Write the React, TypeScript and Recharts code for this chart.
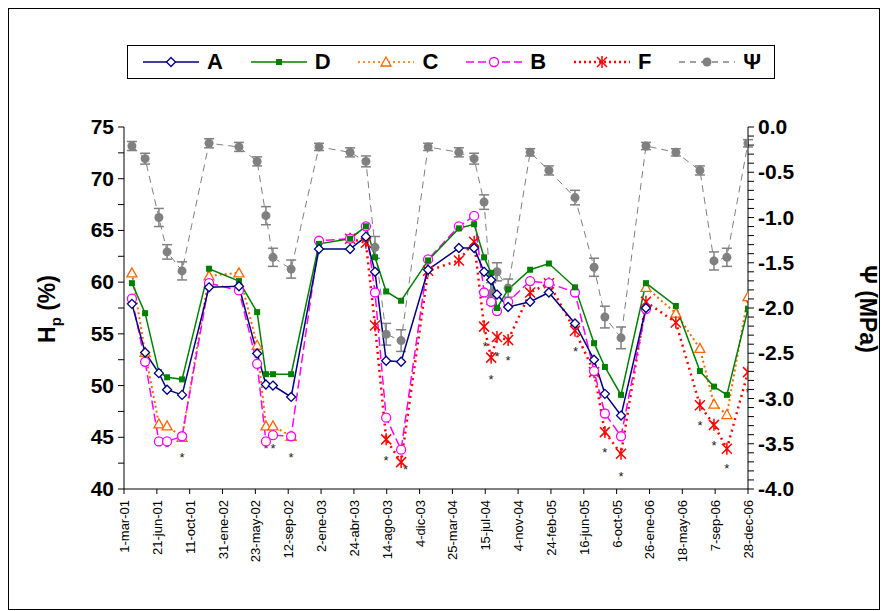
import React from 'react';
import { ComposedChart, Line, Scatter, XAxis, YAxis, ErrorBar } from 'recharts';

// days since 1-mar-01
const days = [27, 72, 119, 147, 198, 290, 392, 454, 484, 508, 570, 665, 771, 825, 856, 894, 945, 1037, 1142, 1194, 1228, 1252, 1272, 1310, 1385, 1449, 1538, 1603, 1640, 1695, 1780, 1882, 1964, 2012, 2056, 2128];
const N = null;
const seriesA = [57.9, 53.2, 51.2, 49.6, 49.1, 59.5, 59.6, 53.1, 50.1, 50.0, 48.9, 63.2, 63.2, 64.4, 61.0, 52.4, 52.3, 61.2, 63.3, 63.3, 61.0, 60.2, 58.8, 57.6, 58.1, 59.0, 56.0, 52.5, 49.2, 47.1, 57.5, N, N, N, N, N];
const seriesD = [59.9, 57.0, 51.3, 50.8, 50.6, 61.3, 60.1, 57.1, 51.1, 51.1, 51.1, 63.7, 64.2, 65.4, 62.4, 59.1, 58.2, 62.1, 65.2, 65.6, 62.4, 60.9, 57.5, 59.3, 61.2, 61.8, 59.5, 54.1, 51.8, 49.1, 59.9, 57.7, 51.4, 49.9, 49.1, 57.4];
const seriesC = [60.9, 53.2, 46.3, 46.1, 45.0, 60.6, 60.9, 53.9, 46.1, 46.1, 45.1, N, N, N, N, N, N, N, N, N, N, N, N, N, N, N, N, N, N, N, 59.5, 57.0, 53.6, 48.2, 47.2, 58.6];
const seriesB = [58.4, 52.3, 44.6, 44.6, 45.1, 59.9, 59.2, 52.1, 44.6, 45.2, 45.1, 64.0, 64.2, 65.4, 59.0, 46.9, 43.8, 62.2, 65.4, 66.4, 59.0, 58.1, 57.2, 58.1, 60.1, 59.9, 59.0, 51.4, 47.3, 45.1, 57.4, N, N, N, N, N];
const seriesF = [N, N, N, N, N, N, N, N, N, N, N, N, 64.2, 63.8, 55.8, 44.8, 42.6, 61.1, 62.1, 63.9, 55.7, 52.7, 54.7, 54.4, 59.0, 59.9, 55.3, 51.3, 45.5, 43.4, 58.1, 56.1, 48.1, 46.2, 43.9, 51.3];
const psi = [-0.21, -0.35, -1.0, -1.38, -1.59, -0.18, -0.22, -0.38, -0.98, -1.44, -1.57, -0.22, -0.28, -0.38, -1.33, -2.29, -2.36, -0.22, -0.28, -0.35, -0.83, -1.84, -1.6, -1.78, -0.28, -0.48, -0.78, -1.55, -2.1, -2.33, -0.21, -0.28, -0.48, -1.48, -1.44, -0.18];
const psiErr = [0.05, 0.06, 0.1, 0.08, 0.1, 0.05, 0.05, 0.05, 0.1, 0.1, 0.1, 0.04, 0.05, 0.06, 0.12, 0.12, 0.12, 0.04, 0.05, 0.06, 0.08, 0.12, 0.1, 0.1, 0.04, 0.05, 0.08, 0.1, 0.12, 0.12, 0.04, 0.04, 0.05, 0.1, 0.1, 0.04];

// significance asterisks
const starDays = [119, 147, 198, 484, 508, 570, 894, 960, 1232, 1252, 1272, 1310, 1540, 1640, 1695, 1964, 2012, 2056, 2128];
const starVals = [44.2, 44.1, 43.1, 44.0, 44.0, 43.1, 42.8, 41.9, 53.8, 50.6, 52.9, 52.5, 53.3, 43.6, 41.3, 46.2, 44.3, 42.0, 49.4];

const tickLabels = ['1-mar-01', '21-jun-01', '11-oct-01', '31-ene-02', '23-may-02', '12-sep-02', '2-ene-03', '24-abr-03', '14-ago-03', '4-dic-03', '25-mar-04', '15-jul-04', '4-nov-04', '24-feb-05', '16-jun-05', '6-oct-05', '26-ene-06', '18-may-06', '7-sep-06', '28-dec-06'];
const xTicks = tickLabels.map((_, i) => i * 112);

const data = days.map((d, i) => ({
  d, A: seriesA[i], D: seriesD[i], C: seriesC[i], B: seriesB[i], F: seriesF[i], psi: psi[i], psiErr: psiErr[i],
}));
const stars = starDays.map((d, i) => ({ d, v: starVals[i] }));

const leftTicks = Array.from({ length: 15 }, (_, i) => 40 + i * 2.5);
const rightTicks = Array.from({ length: 41 }, (_, i) => Math.round((-4 + i * 0.1) * 10) / 10);

const Diamond = (p: any) => p.cy == null || p.payload?.A == null ? null :
  <path d={`M${p.cx},${p.cy - 4.5}L${p.cx + 4.5},${p.cy}L${p.cx},${p.cy + 4.5}L${p.cx - 4.5},${p.cy}Z`} fill="#fff" stroke="#000080" strokeWidth={1.3} />;
const Square = (p: any) => p.cy == null ? null : <rect x={p.cx - 3} y={p.cy - 3} width={6} height={6} fill="#008000" />;
const Tri = (p: any) => p.cy == null || p.payload?.C == null ? null :
  <path d={`M${p.cx},${p.cy - 5}L${p.cx + 5},${p.cy + 4}L${p.cx - 5},${p.cy + 4}Z`} fill="#fff" stroke="#ff6600" strokeWidth={1.3} />;
const Circ = (p: any) => p.cy == null || p.payload?.B == null ? null : <circle cx={p.cx} cy={p.cy} r={4.5} fill="#fff" stroke="#ff00ff" strokeWidth={1.3} />;
const Ast = (p: any) => p.cy == null || p.payload?.F == null ? null : (
  <g stroke="#ff0000" strokeWidth={1.5}>
    <line x1={p.cx - 5} y1={p.cy - 5} x2={p.cx + 5} y2={p.cy + 5} />
    <line x1={p.cx - 5} y1={p.cy + 5} x2={p.cx + 5} y2={p.cy - 5} />
    <line x1={p.cx} y1={p.cy - 6} x2={p.cx} y2={p.cy + 6} />
  </g>
);
const Dot = (p: any) => p.cy == null ? null : <circle cx={p.cx} cy={p.cy} r={4.5} fill="#808080" />;
const StarText = (p: any) => <text x={p.cx} y={p.cy + 5} textAnchor="middle" fontSize={13} fontFamily="Arial" fill="#222">*</text>;

const LeftTick = (p: any) => {
  const v = p.payload.value;
  const major = v % 5 === 0;
  return (
    <g>
      <line x1={p.x + 2} x2={p.x + 8} y1={p.y} y2={p.y} stroke="#000" />
      {major && <text x={p.x - 2} y={p.y + 7} textAnchor="end" fontSize={21} fontWeight="bold" fontFamily="Arial">{v}</text>}
    </g>
  );
};
const RightTick = (p: any) => {
  const v = p.payload.value;
  const major = Math.abs(Math.round(v * 10) % 5) === 0;
  return (
    <g>
      <line x1={p.x - 8} x2={p.x - 2} y1={p.y} y2={p.y} stroke="#000" />
      {major && <text x={p.x + 2} y={p.y + 7} textAnchor="start" fontSize={21} fontWeight="bold" fontFamily="Arial">{v.toFixed(1)}</text>}
    </g>
  );
};
const XTick = (p: any) => {
  const i = Math.round(p.payload.value / 112);
  return (
    <text x={p.x + 5} y={p.y + 4} transform={`rotate(-90 ${p.x + 5} ${p.y + 4})`} textAnchor="end" fontSize={13} fontFamily="Arial">{tickLabels[i]}</text>
  );
};

const legendItems = [
  { k: 'A', color: '#000080', dash: undefined, mark: 'diamond' },
  { k: 'D', color: '#008000', dash: undefined, mark: 'square' },
  { k: 'C', color: '#ff6600', dash: '2 3', mark: 'tri' },
  { k: 'B', color: '#ff00ff', dash: '8 4', mark: 'circ' },
  { k: 'F', color: '#ff0000', dash: '2 3', mark: 'ast' },
  { k: 'Ψ', color: '#808080', dash: '6 5', mark: 'dot' },
];

function LegendBox() {
  return (
    <div style={{ position: 'absolute', left: 118, top: 36, width: 646, height: 32, border: '1px solid #000', display: 'flex', alignItems: 'center', justifyContent: 'space-around', background: '#fff', fontFamily: 'Arial', fontWeight: 'bold', fontSize: 22 }}>
      {legendItems.map(it => (
        <div key={it.k} style={{ display: 'flex', alignItems: 'center' }}>
          <svg width={60} height={20}>
            <line x1={2} x2={58} y1={10} y2={10} stroke={it.color} strokeWidth={it.k === 'F' ? 2.5 : 1.5} strokeDasharray={it.dash} />
            {it.mark === 'diamond' && <Diamond cx={30} cy={10} payload={{ A: 1 }} />}
            {it.mark === 'square' && <Square cx={30} cy={10} />}
            {it.mark === 'tri' && <Tri cx={30} cy={10} payload={{ C: 1 }} />}
            {it.mark === 'circ' && <Circ cx={30} cy={10} payload={{ B: 1 }} />}
            {it.mark === 'ast' && <Ast cx={30} cy={10} payload={{ F: 1 }} />}
            {it.mark === 'dot' && <Dot cx={30} cy={10} />}
          </svg>
          <span style={{ marginLeft: 6 }}>{it.k}</span>
        </div>
      ))}
    </div>
  );
}

export default function App() {
  return (
    <div style={{ position: 'relative', width: 870, height: 600, border: '1px solid #000', background: '#fff' }}>
      <LegendBox />
      <div style={{ position: 'absolute', left: 22, top: 300, transform: 'translate(-50%,-50%) rotate(-90deg)', transformOrigin: 'center', fontFamily: 'Arial', fontWeight: 'bold', fontSize: 23, whiteSpace: 'nowrap', left: 40 } as any}>
        H<sub style={{ fontSize: 15 }}>p</sub> (%)
      </div>
      <div style={{ position: 'absolute', top: 300, left: 858, transform: 'translate(-50%,-50%) rotate(90deg)', fontFamily: 'Arial', fontWeight: 'bold', fontSize: 23, whiteSpace: 'nowrap' }}>
        Ψ (MPa)
      </div>
      <ComposedChart width={870} height={595} data={data} margin={{ top: 118, right: 61, left: 45, bottom: 30 }}>
        <XAxis dataKey="d" type="number" domain={[0, 2128]} ticks={xTicks} tick={<XTick />} height={85} interval={0} stroke="#000" tickSize={5} allowDataOverflow />
        <YAxis yAxisId="l" domain={[40, 75]} ticks={leftTicks} tick={<LeftTick />} tickLine={false} width={70} stroke="#000" interval={0} />
        <YAxis yAxisId="r" orientation="right" domain={[-4, 0]} ticks={rightTicks} tick={<RightTick />} tickLine={false} width={70} stroke="#000" interval={0} />
        <Line yAxisId="r" dataKey="psi" stroke="#808080" strokeWidth={1} strokeDasharray="7 5" dot={<Dot />} isAnimationActive={false}>
          <ErrorBar dataKey="psiErr" direction="y" width={5} stroke="#808080" strokeWidth={1.5} />
        </Line>
        <Line yAxisId="l" dataKey="C" stroke="#ff6600" strokeWidth={2} strokeDasharray="2 3" dot={<Tri />} isAnimationActive={false} />
        <Line yAxisId="l" dataKey="F" stroke="#ff0000" strokeWidth={2.5} strokeDasharray="2 4" dot={<Ast />} isAnimationActive={false} />
        <Line yAxisId="l" dataKey="B" stroke="#ff00ff" strokeWidth={1.5} strokeDasharray="9 4" dot={<Circ />} isAnimationActive={false} />
        <Line yAxisId="l" dataKey="D" stroke="#008000" strokeWidth={1.5} dot={<Square />} isAnimationActive={false} />
        <Line yAxisId="l" dataKey="A" stroke="#000080" strokeWidth={1.5} dot={<Diamond />} isAnimationActive={false} />
        <Scatter yAxisId="l" data={stars} dataKey="v" shape={<StarText />} isAnimationActive={false} />
      </ComposedChart>
    </div>
  );
}
